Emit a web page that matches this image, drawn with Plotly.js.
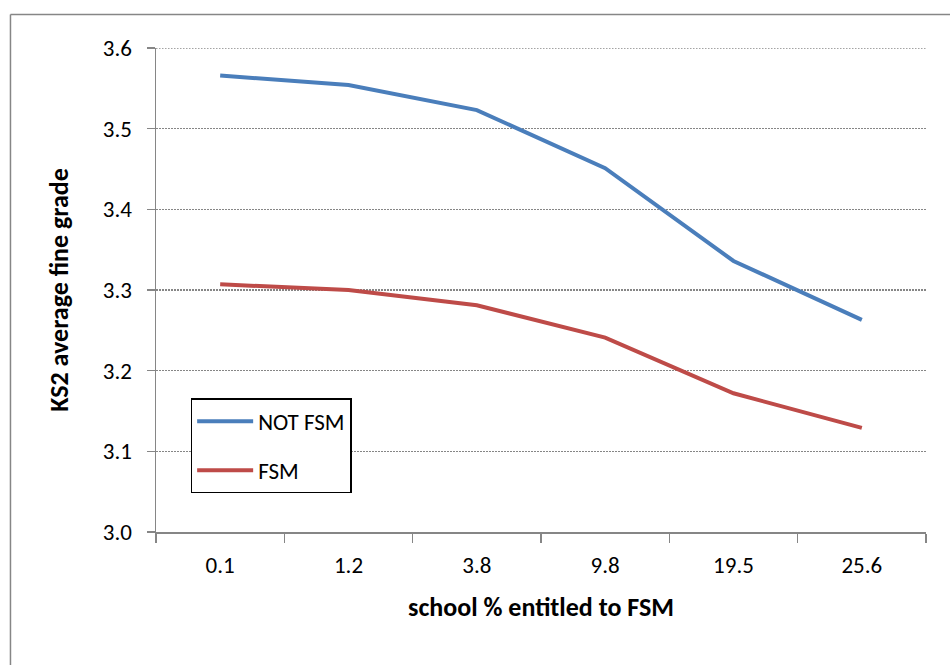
<!DOCTYPE html>
<html>
<head>
<meta charset="utf-8">
<script src="https://cdn.plot.ly/plotly-3.0.1.min.js"></script>
<style>
  html, body { margin: 0; padding: 0; background: #fff; }
  #chart { width: 950px; height: 665px; }
</style>
</head>
<body>
<div id="chart"></div>
<script>
// KS2 average fine grade by school FSM share
const categories = ['0.1', '1.2', '3.8', '9.8', '19.5', '25.6'];
const notFsm = [3.566, 3.554, 3.523, 3.451, 3.336, 3.263];
const fsm = [3.307, 3.300, 3.281, 3.241, 3.172, 3.129];
const yMin = 3.0, yMax = 3.6;

const FONT = 'Carlito, Calibri, Lato, "Liberation Sans", sans-serif';
const AXIS_GREY = '#868686';
const GRID_DASH = '1.5px,1.5px';

const traces = [
  {
    x: categories, y: notFsm, type: 'scatter', mode: 'lines', name: 'NOT FSM',
    legendgroup: 'a',
    line: { color: '#4A7EBB', width: 4 },
  },
  {
    x: categories, y: fsm, type: 'scatter', mode: 'lines', name: 'FSM',
    legendgroup: 'b',
    line: { color: '#BE4B48', width: 4 },
  },
];

const layout = {
  width: 950, height: 665,
  margin: { l: 156, r: 24, t: 48, b: 133 },
  paper_bgcolor: '#fff', plot_bgcolor: '#fff',
  font: { family: FONT, size: 23, color: '#000' },
  showlegend: true,
  legend: {
    x: 0.045, y: 0.276, xanchor: 'left', yanchor: 'top',
    bgcolor: '#fff', bordercolor: '#000', borderwidth: 1.5,
    font: { family: FONT, size: 23, color: '#000' },
    traceorder: 'grouped', tracegroupgap: 16,
    itemwidth: 56, entrywidth: 140,
  },
  xaxis: {
    type: 'category', range: [-0.5, 5.5],
    showline: true, linecolor: AXIS_GREY, linewidth: 1.5,
    ticks: 'outside', tickson: 'boundaries', ticklen: 9, tickcolor: AXIS_GREY, tickwidth: 1.5,
    ticklabelstandoff: 12,
    showgrid: false, zeroline: false,
    tickfont: { family: FONT, size: 23, color: '#000' },
    title: { text: '<b>school % entitled to FSM</b>', font: { family: FONT, size: 26, color: '#000' }, standoff: 19 },
  },
  yaxis: {
    range: [yMin, yMax], dtick: 0.1, tickformat: '.1f',
    showline: true, linecolor: AXIS_GREY, linewidth: 1.5,
    ticks: 'outside', ticklen: 8, tickcolor: AXIS_GREY, tickwidth: 1.5,
    ticklabelstandoff: 10,
    showgrid: true, gridcolor: AXIS_GREY, griddash: GRID_DASH, gridwidth: 1.5,
    zeroline: false,
    tickfont: { family: FONT, size: 23, color: '#000' },
    title: { text: '<b>KS2 average fine grade</b>', font: { family: FONT, size: 26, color: '#000' }, standoff: 26 },
  },
  shapes: [
    // top gridline, which plotly skips at the edge of the range
    { type: 'line', xref: 'paper', yref: 'y', x0: 0, x1: 1, y0: yMax, y1: yMax,
      line: { color: AXIS_GREY, width: 1.5, dash: GRID_DASH } },
    // outer chart frame (only top and left edges fall inside the picture)
    { type: 'line', xref: 'paper', yref: 'paper', x0: -0.189, x1: 1.05, y0: 1.069, y1: 1.069,
      line: { color: AXIS_GREY, width: 1.5 } },
    { type: 'line', xref: 'paper', yref: 'paper', x0: -0.189, x1: -0.189, y0: 1.069, y1: -0.32,
      line: { color: AXIS_GREY, width: 1.5 } },
  ],
};

Plotly.newPlot('chart', traces, layout, { displayModeBar: false, staticPlot: true });
</script>
</body>
</html>
